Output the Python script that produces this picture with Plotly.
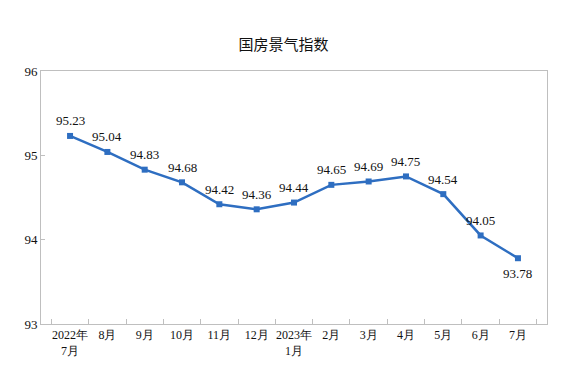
import plotly.graph_objects as go

categories = ["2022年<br>7月", "8月", "9月", "10月", "11月", "12月", "2023年<br>1月",
              "2月", "3月", "4月", "5月", "6月", "7月"]
values = [95.23, 95.04, 94.83, 94.68, 94.42, 94.36, 94.44, 94.65, 94.69, 94.75, 94.54, 94.05, 93.78]
label_below = [False] * 12 + [True]

serif = "Liberation Serif"

fig = go.Figure()
fig.add_trace(go.Scatter(
    x=categories, y=values, mode="lines+markers",
    line=dict(color="#2E6EC1", width=2.5),
    marker=dict(symbol="square", size=6, color="#2E6EC1"),
    showlegend=False, hoverinfo="x+y",
))

for c, v, below in zip(categories, values, label_below):
    fig.add_annotation(x=c, y=v, text=f"{v:.2f}", showarrow=False,
                       yshift=-15 if below else 15,
                       font=dict(family=serif, size=13, color="#111111"))

fig.update_layout(
    width=560, height=364,
    margin=dict(l=33, r=21, t=63, b=48, autoexpand=False),
    paper_bgcolor="white", plot_bgcolor="white",
    font=dict(family=serif),
    title=dict(text="国房景气指数", x=(237 + 330) / 2 / 560 - 8 / 560, xanchor="center",
               y=1 - 37 / 364, yanchor="middle",
               font=dict(family="Noto Sans CJK SC", size=15, color="#111111")),
    xaxis=dict(type="category", showline=True, linecolor="#BFBFBF", linewidth=1, mirror=True,
               ticks="inside", tickson="boundaries", ticklen=5, tickcolor="#BFBFBF",
               tickangle=0, automargin=False,
               showgrid=False, tickfont=dict(family=serif, size=12, color="#111111")),
    yaxis=dict(range=[93, 96], tickvals=[93, 94, 95, 96], showline=True, linecolor="#BFBFBF",
               linewidth=1, mirror=True, ticks="inside", ticklen=4, tickcolor="#BFBFBF",
               showgrid=False, zeroline=False, automargin=False,
               tickfont=dict(family=serif, size=13, color="#111111")),
)

fig.write_html("out.html")
